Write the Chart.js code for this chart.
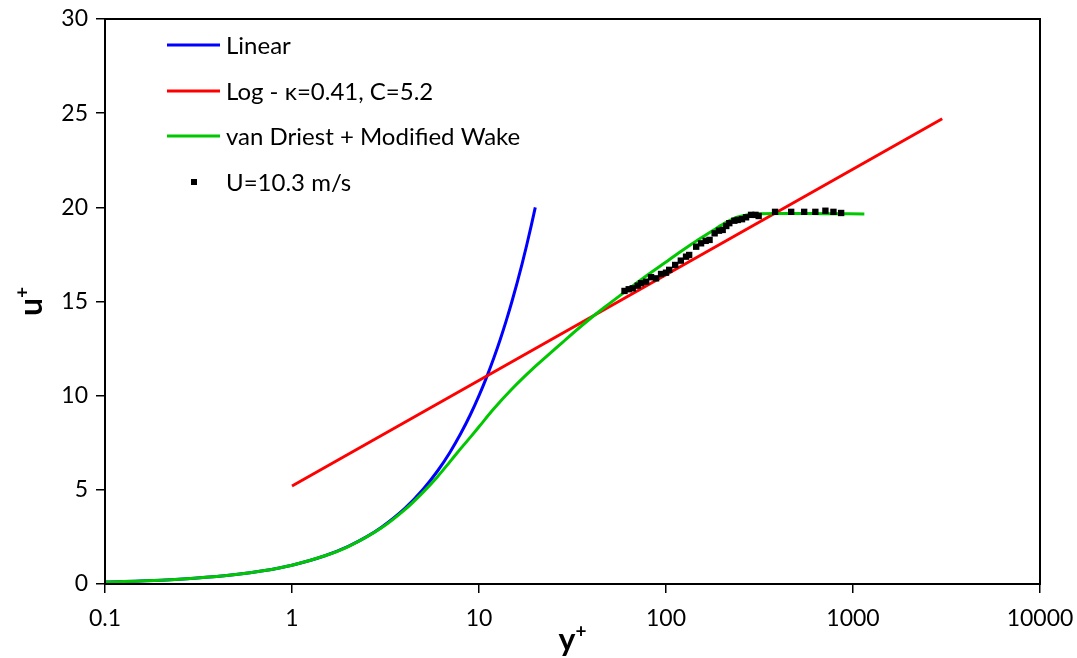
<!DOCTYPE html>
<html><head><meta charset="utf-8">
<script src="https://cdn.jsdelivr.net/npm/chart.js@4.4.1/dist/chart.umd.min.js"></script>
<style>html,body{margin:0;padding:0;background:#fff}#wrap{width:1077px;height:658px}</style>
</head><body><div id="wrap"><canvas id="c" width="1077" height="658"></canvas></div>
<script>
// ---- data ----
const xTickValues = [0.1, 1, 10, 100, 1000, 10000];
const xTickLabels = ['0.1', '1', '10', '100', '1000', '10000'];
const yTickStep = 5;

const seriesNames = ['Linear', 'Log - \u03BA=0.41, C=5.2', 'van Driest + Modified Wake', 'U=10.3 m/s'];

const yPlusLinear = [0.1, 0.2, 0.3, 0.5, 0.7, 1, 1.5, 2, 2.5, 3, 4, 5, 6, 7, 8, 9, 10, 11, 12, 13, 14, 15, 16, 17, 18, 19, 20];
const uPlusLinear = [0.1, 0.2, 0.3, 0.5, 0.7, 1, 1.5, 2, 2.5, 3, 4, 5, 6, 7, 8, 9, 10, 11, 12, 13, 14, 15, 16, 17, 18, 19, 20];

const yPlusLog = [1, 3000];
const uPlusLog = [5.2, 24.7];

const yPlusVD = [0.1, 0.2, 0.3, 0.5, 0.7, 1, 1.5, 2, 3, 4, 5, 6, 7, 8, 9, 10, 12, 15, 20, 25, 30, 40, 50, 60, 70, 80, 100, 120, 150, 180, 210, 240, 270, 300, 400, 600, 800, 1150];
const uPlusVD  = [0.1, 0.2, 0.3, 0.5, 0.7, 1, 1.5, 1.99, 2.97, 3.93, 4.85, 5.7, 6.5, 7.2, 7.8, 8.35, 9.3, 10.35, 11.55, 12.4, 13.1, 14.15, 14.9, 15.5, 16.0, 16.42, 17.1, 17.65, 18.3, 18.8, 19.2, 19.48, 19.6, 19.65, 19.67, 19.67, 19.66, 19.65];

const yPlusData = [60.0, 63.2, 66.4, 70.6, 73.6, 78.3, 83.2, 88.5, 94.1, 100, 104, 112, 120, 128, 133, 145, 154, 163, 171, 182, 192, 201, 210, 218, 232, 242, 255, 268, 285, 301, 313, 383, 467, 548, 629, 712, 786, 864];
const uPlusData = [15.56, 15.65, 15.70, 15.84, 15.97, 16.05, 16.29, 16.23, 16.46, 16.53, 16.68, 16.94, 17.17, 17.38, 17.47, 17.91, 18.09, 18.22, 18.27, 18.62, 18.76, 18.80, 19.01, 19.16, 19.29, 19.33, 19.37, 19.47, 19.60, 19.60, 19.54, 19.76, 19.76, 19.76, 19.76, 19.82, 19.76, 19.70];

// ---- build ----
const pts = (xs, ys) => xs.map((x, i) => ({x: x, y: ys[i]}));
const FONT = 'Lato, "Open Sans", "DejaVu Sans", sans-serif';

const lineDs = (label, xs, ys, color, order) => ({
  label, data: pts(xs, ys), showLine: true, borderColor: color, backgroundColor: color,
  borderWidth: 3, pointRadius: 0, pointHoverRadius: 0, fill: false, order,
  cubicInterpolationMode: 'monotone'
});

const datasets = [
  lineDs(seriesNames[0], yPlusLinear, uPlusLinear, '#0000ff', 3),
  lineDs(seriesNames[1], yPlusLog, uPlusLog, '#ff0000', 2),
  lineDs(seriesNames[2], yPlusVD, uPlusVD, '#00c800', 1),
  { label: seriesNames[3], data: pts(yPlusData, uPlusData), showLine: false,
    pointStyle: 'rect', pointRadius: 4.5, pointBackgroundColor: '#000', pointBorderColor: '#000',
    pointBorderWidth: 0, backgroundColor: '#000', borderColor: '#000', order: 0 }
];

const framePlugin = {
  id: 'frame',
  afterDraw(chart) {
    const {ctx, chartArea: a} = chart;
    ctx.save();
    // frame
    ctx.strokeStyle = '#000'; ctx.lineWidth = 2;
    ctx.strokeRect(a.left, a.top, a.right - a.left, a.bottom - a.top);
    // legend
    const lx0 = 167, lx1 = 220, tx = 226, rows = [45, 91, 136, 182];
    ctx.font = '24px ' + FONT; ctx.fillStyle = '#000'; ctx.textBaseline = 'middle'; ctx.textAlign = 'left';
    chart.data.datasets.forEach((ds, i) => {
      const y = rows[i];
      if (ds.showLine) {
        ctx.strokeStyle = ds.borderColor; ctx.lineWidth = 3;
        ctx.beginPath(); ctx.moveTo(lx0, y); ctx.lineTo(lx1, y); ctx.stroke();
      } else {
        ctx.fillStyle = '#000'; ctx.fillRect(191, y - 3, 6, 6);
      }
      ctx.fillStyle = '#000';
      ctx.fillText(ds.label, tx, y + 1);
    });
    // axis titles with superscript
    const drawSup = (base, sup, cx, cy, rot) => {
      ctx.save();
      ctx.translate(cx, cy); ctx.rotate(rot);
      ctx.textBaseline = 'alphabetic'; ctx.textAlign = 'left'; ctx.fillStyle = '#000';
      ctx.font = 'bold 32px ' + FONT; const wb = ctx.measureText(base).width;
      ctx.font = 'bold 19px ' + FONT; const ws = ctx.measureText(sup).width;
      const x0 = -(wb + ws) / 2;
      ctx.font = 'bold 32px ' + FONT; ctx.fillText(base, x0, 0);
      ctx.font = 'bold 19px ' + FONT; ctx.fillText(sup, x0 + wb, -13);
      ctx.restore();
    };
    drawSup('u', '+', 42, (a.top + a.bottom) / 2, -Math.PI / 2);
    drawSup('y', '+', (a.left + a.right) / 2, 651, 0);
    ctx.restore();
  }
};

new Chart(document.getElementById('c'), {
  type: 'scatter',
  data: { datasets },
  options: {
    responsive: false, animation: false, devicePixelRatio: 1,
    layout: { padding: { top: 19, right: 37, left: 0, bottom: 0 } },
    plugins: { legend: { display: false }, tooltip: { enabled: false } },
    scales: {
      x: {
        type: 'logarithmic', min: 0.1, max: 10000,
        afterBuildTicks: (s) => { s.ticks = xTickValues.map(v => ({value: v})); },
        afterFit: (s) => { s.height = 74; s.paddingRight = 0; s.paddingLeft = 0; },
        ticks: { color: '#000', font: { size: 23, family: FONT }, padding: 12, maxRotation: 0, autoSkip: false,
          callback: (v) => { const i = xTickValues.indexOf(v); return i >= 0 ? xTickLabels[i] : ''; } },
        grid: { display: true, drawOnChartArea: false, drawTicks: true, tickLength: 9, color: '#000', lineWidth: 1.5 },
        border: { display: true, color: '#000', width: 2 }
      },
      y: {
        type: 'linear', min: 0, max: 30,
        afterFit: (s) => { s.width = 105; s.paddingTop = 0; s.paddingBottom = 0; },
        ticks: { stepSize: yTickStep, color: '#000', font: { size: 23, family: FONT }, padding: 8 },
        grid: { display: true, drawOnChartArea: false, drawTicks: true, tickLength: 9, color: '#000', lineWidth: 1.5 },
        border: { display: true, color: '#000', width: 2 }
      }
    }
  },
  plugins: [framePlugin]
});
</script>
</body></html>
